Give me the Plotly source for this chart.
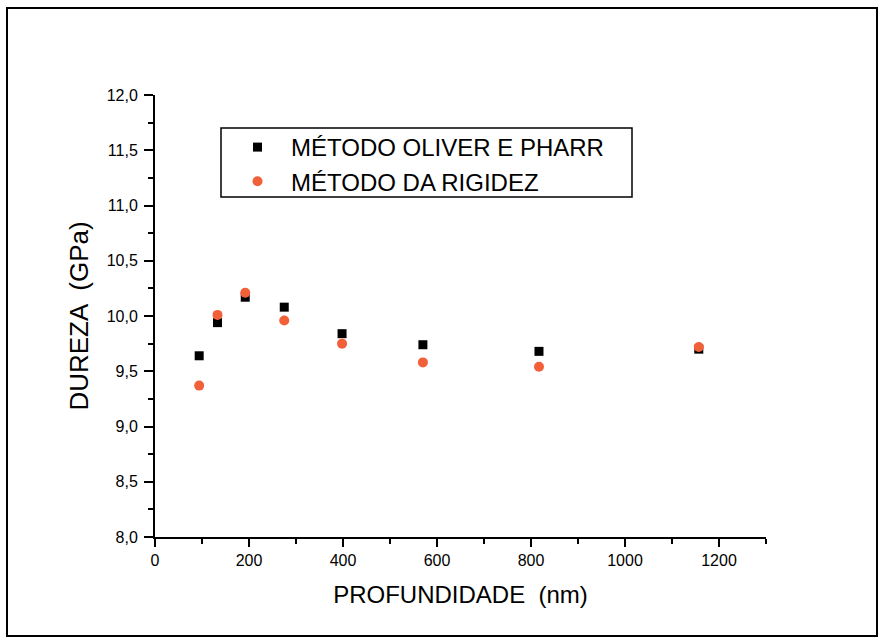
import plotly.graph_objects as go

# Data
profundidade = [94, 133, 192, 275, 398, 570, 817, 1157]
dureza_oliver_pharr = [9.64, 9.94, 10.17, 10.08, 9.84, 9.74, 9.68, 9.70]
dureza_rigidez = [9.37, 10.01, 10.21, 9.96, 9.75, 9.58, 9.54, 9.72]

serie_nomes = ["MÉTODO OLIVER E PHARR", "MÉTODO DA RIGIDEZ"]
x_titulo = "PROFUNDIDADE  (nm)"
y_titulo = "DUREZA  (GPa)"

TXT = "Liberation Sans, Arial, sans-serif"

fig = go.Figure()
fig.add_trace(go.Scatter(
    x=profundidade, y=dureza_oliver_pharr, mode="markers", name=serie_nomes[0],
    legendgroup="a",
    marker=dict(symbol="square", size=9, color="black", line=dict(width=0)),
))
fig.add_trace(go.Scatter(
    x=profundidade, y=dureza_rigidez, mode="markers", name=serie_nomes[1],
    legendgroup="b",
    marker=dict(symbol="circle", size=10, color="#F2603A", line=dict(width=0)),
))

L, R, T, B = 155, 114, 95, 102
W, H = 880, 639
pw, ph = W - L - R, H - T - B

def px(xp):
    return (xp - L) / pw

def py(yp):
    return (H - B - yp) / ph

fig.update_layout(
    width=W, height=H,
    margin=dict(l=L, r=R, t=T, b=B, pad=0),
    paper_bgcolor="white", plot_bgcolor="white",
    separators=",.",
    showlegend=True,
    legend=dict(
        x=px(224), y=py(125), xanchor="left", yanchor="top",
        bgcolor="rgba(0,0,0,0)", borderwidth=0,
        font=dict(family=TXT, size=24, color="black"),
        itemwidth=57, tracegroupgap=0, traceorder="grouped",
    ),
    xaxis=dict(
        range=[0, 1300], tickmode="linear", tick0=0, dtick=200,
        tickformat="d",
        showline=True, linecolor="black", linewidth=2,
        ticks="outside", ticklen=8, tickwidth=1.5, tickcolor="black",
        minor=dict(dtick=100, ticks="outside", ticklen=5, tickwidth=1.5, tickcolor="black"),
        showgrid=False, zeroline=False,
        tickfont=dict(family=TXT, size=16, color="black"),
        title=dict(text=x_titulo, font=dict(family=TXT, size=24, color="black"), standoff=18),
    ),
    yaxis=dict(
        range=[8, 12], tickmode="linear", tick0=8, dtick=0.5,
        tickformat=".1f",
        showline=True, linecolor="black", linewidth=2,
        ticks="outside", ticklen=9, tickwidth=1.5, tickcolor="black",
        minor=dict(dtick=0.25, ticks="outside", ticklen=5, tickwidth=1.5, tickcolor="black"),
        showgrid=False, zeroline=False,
        ticklabelstandoff=3,
        tickfont=dict(family=TXT, size=16, color="black"),
        title=dict(text=y_titulo, font=dict(family=TXT, size=26, color="black"), standoff=11),
    ),
    shapes=[
        # outer frame
        dict(type="rect", xref="paper", yref="paper",
             x0=px(7), x1=px(877), y0=py(636), y1=py(8),
             line=dict(color="black", width=2), fillcolor="rgba(0,0,0,0)", layer="below"),
        # legend box
        dict(type="rect", xref="paper", yref="paper",
             x0=px(221), x1=px(632), y0=py(197), y1=py(128),
             line=dict(color="black", width=1.5), fillcolor="rgba(0,0,0,0)"),
    ],
)

fig.write_html("out.html")
